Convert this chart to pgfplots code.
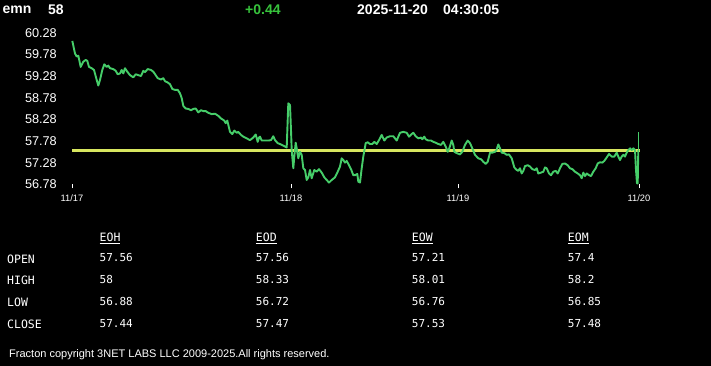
\documentclass[border=0pt]{standalone}
\usepackage{fontspec}
\setmainfont{Liberation Sans}
\newfontfamily\monofont{DejaVu Sans Mono}
\usepackage{pgfplots}
\pgfplotsset{compat=1.18}
\definecolor{linegreen}{RGB}{70,205,105}
\definecolor{textgreen}{RGB}{55,195,60}
\definecolor{openyellow}{RGB}{215,230,95}
\begin{document}
\begin{tikzpicture}[x=1pt,y=1pt]
\fill[black] (0,0) rectangle (711,366);
% header
\node[anchor=west,inner sep=0pt,text=white,font=\fontsize{14}{16}\selectfont\bfseries] at (2.5,356.5) {emn};
\node[anchor=west,inner sep=0pt,text=white,font=\fontsize{14}{16}\selectfont\bfseries] at (48,356.5) {58};
\node[anchor=west,inner sep=0pt,text=textgreen,font=\fontsize{14}{16}\selectfont\bfseries] at (245,356.5) {+0.44};
\node[anchor=west,inner sep=0pt,text=white,font=\fontsize{14}{16}\selectfont\bfseries] at (357,356.5) {2025-11-20};
\node[anchor=west,inner sep=0pt,text=white,font=\fontsize{14}{16}\selectfont\bfseries] at (443,356.5) {04:30:05};
\begin{scope}[shift={(72pt,181.7pt)}]
\begin{axis}[
  at={(0pt,0pt)}, anchor=south west,
  scale only axis, width=568pt, height=151.6pt,
  xmin=72, xmax=640, ymin=56.78, ymax=60.28,
  clip=false,
  axis line style={draw=none},
  ytick={56.78,57.28,57.78,58.28,58.78,59.28,59.78,60.28},
  yticklabels={56.78,57.28,57.78,58.28,58.78,59.28,59.78,60.28},
  ytick style={draw=none},
  yticklabel style={text=white,font=\fontsize{12.7}{14}\selectfont,anchor=east,inner sep=0pt,xshift=-11pt},
  xtick={72,291,458,639},
  xticklabels={11/17,11/18,11/19,11/20},
  xtick pos=bottom, ytick pos=left,
  tick align=outside,
  major tick length=4pt,
  xtick style={draw=white,line width=0.8pt},
  xticklabel style={text=white,font=\fontsize{9.3}{10}\selectfont,anchor=north,inner sep=0pt,yshift=-6.5pt},
]
\addplot[openyellow,line width=2.4pt] coordinates {(72,57.56) (640,57.56)};
\addplot[linegreen,line width=1.9pt,line join=round] table {
x y
72.3 60.09
75 59.80
76.7 59.73
78.3 59.75
80.7 59.49
83.3 59.61
85.7 59.65
87.3 59.63
89 59.49
91.7 59.46
94 59.42
96.7 59.19
98.3 59.06
100 59.19
102.3 59.42
104.3 59.55
106.7 59.49
108.3 59.52
110 59.46
113.3 59.44
115.7 59.40
117.7 59.32
120 59.34
121.7 59.42
123.3 59.34
125 59.46
127.3 59.38
130 59.30
133.3 59.25
135.7 59.32
138.3 59.30
141 59.28
143.3 59.40
145 59.37
147.7 59.44
151 59.42
153.3 59.38
155.7 59.30
157.7 59.23
161 59.20
163.3 59.23
165 59.16
167.7 59.13
170 59.09
172.3 58.98
175 58.96
177.7 58.96
180 58.88
181.7 58.77
183.3 58.59
185.7 58.53
188.3 58.52
191 58.49
193.3 58.52
195.7 58.53
198.3 58.44
201 58.49
203.3 58.47
205.7 58.47
208.3 58.43
211.7 58.40
215 58.41
218.3 58.36
221 58.30
224.3 58.25
225.7 58.19
227.3 58.25
230 57.99
232.3 57.94
234.3 58.02
236.7 57.97
238.3 57.99
241 57.92
243.3 57.88
246.7 57.84
250 57.80
253.3 57.86
255.7 57.93
257.7 57.76
259 57.86
260 57.88
261.7 57.79
265 57.79
268.3 57.79
271 57.80
273.3 57.89
275 57.80
277.7 57.73
281 57.70
284.3 57.66
286.7 57.63
288.3 58.65
290 58.61
291 58.03
291.7 57.57
293.3 57.15
294.3 57.42
295.7 57.74
296.7 57.61
298.3 57.38
300 57.53
301.7 57.46
303.3 57.15
305 57.11
306.7 56.88
308.3 56.94
310 57.11
311.7 56.92
314.3 57.11
316.7 57.07
319 57.13
321.7 57.05
324.3 56.94
326.7 56.88
329 56.82
331.7 56.88
335 56.94
337.7 57.07
340 57.19
341.7 57.38
343.3 57.34
345 57.28
346.7 57.32
349 57.22
351 57.13
353.3 56.99
355 56.99
357.3 57.02
358.3 56.84
360 56.82
361.7 57.15
363.3 57.42
365.7 57.73
367.7 57.75
370 57.71
372.3 57.71
374.3 57.76
376.7 57.71
379 57.80
381.7 57.92
384.3 57.79
386.7 57.86
390 57.89
393.3 57.89
396.7 57.79
400 57.97
403.3 57.99
406.7 57.97
409 57.88
411.7 57.94
413.3 57.97
415.7 57.89
418.3 57.84
421 57.86
422.3 57.82
424.3 57.88
425.7 57.82
428.3 57.79
431 57.79
433.3 57.76
435.7 57.74
438.3 57.71
441 57.69
443.3 57.76
445.7 57.65
447.7 57.53
449.3 57.61
451.7 57.79
453.3 57.69
454.3 57.53
456.7 57.50
460 57.47
462.3 57.53
465 57.69
467.7 57.79
470 57.73
472.3 57.61
475 57.46
478.3 57.38
481 57.36
483.3 57.30
485.7 57.25
487.7 57.30
490 57.51
492.3 57.51
495 57.53
496.5 57.57
498.3 57.70
500 57.61
501.7 57.51
504.3 57.50
506.7 57.46
509 57.47
511.7 57.38
514.3 57.17
516.7 57.11
518.3 57.09
520 57.15
521.7 57.03
523.3 57.09
525 57.20
527.7 57.22
530 57.19
532.3 57.13
535 57.11
536.7 57.15
538.3 57.03
541 57.05
543.3 57.07
545 57.17
546.7 57.15
549 57.03
551 56.99
553.3 57.07
555.7 57.09
557.7 57.03
560 57.15
562.3 57.25
565 57.26
567.7 57.22
570 57.15
572.3 57.13
575 57.07
577.7 57.03
580 56.99
581.7 56.92
583.3 57.05
585 56.97
586.7 57.03
589 56.99
591 56.97
593.3 57.07
595.7 57.15
597.7 57.26
600 57.29
602.3 57.28
604.3 57.32
606.7 57.40
609 57.48
611.7 57.42
614.3 57.42
616.7 57.51
618.3 57.42
620 57.34
621.7 57.42
623.3 57.46
625 57.42
626.7 57.51
628.3 57.57
630 57.61
631.7 57.57
633.3 57.61
635 57.57
636 57.11
637 56.80
637.7 56.80
638.3 57.57
};
\addplot[linegreen,line width=0.8pt] coordinates {(638.6,57.57) (638.6,57.99)};
\end{axis}
\end{scope}
% table
\begin{scope}[every node/.style={anchor=west,inner sep=0pt,text=white}]
\node[font=\monofont\fontsize{11.5}{13}\selectfont] at (99.5,128) {\underline{EOH}};
\node[font=\monofont\fontsize{11.5}{13}\selectfont] at (255.7,128) {\underline{EOD}};
\node[font=\monofont\fontsize{11.5}{13}\selectfont] at (411.7,128) {\underline{EOW}};
\node[font=\monofont\fontsize{11.5}{13}\selectfont] at (567.7,128) {\underline{EOM}};
\node[font=\monofont\fontsize{11.5}{13}\selectfont] at (7,106.7) {OPEN};
\node[font=\monofont\fontsize{11.5}{13}\selectfont] at (7,85.3) {HIGH};
\node[font=\monofont\fontsize{11.5}{13}\selectfont] at (7,63.7) {LOW};
\node[font=\monofont\fontsize{11.5}{13}\selectfont] at (7,41.7) {CLOSE};
\foreach \x/\a/\b/\c/\d in {99.5/57.56/58/56.88/57.44, 255.7/57.56/58.33/56.72/57.47, 411.7/57.21/58.01/56.76/57.53, 567.7/57.4/58.2/56.85/57.48}{
  \node[font=\monofont\fontsize{11}{13}\selectfont] at (\x,108.3) {\a};
  \node[font=\monofont\fontsize{11}{13}\selectfont] at (\x,86.3) {\b};
  \node[font=\monofont\fontsize{11}{13}\selectfont] at (\x,64.3) {\c};
  \node[font=\monofont\fontsize{11}{13}\selectfont] at (\x,42.3) {\d};
}
\end{scope}
\node[anchor=west,inner sep=0pt,text=white,font=\fontsize{11}{12}\selectfont] at (9,11) {Fracton copyright 3NET LABS LLC 2009-2025.All rights reserved.};
\end{tikzpicture}
\end{document}
